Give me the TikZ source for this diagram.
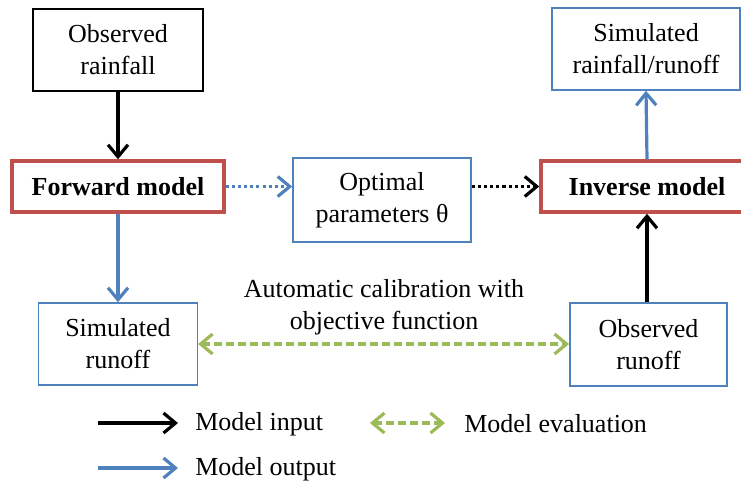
\documentclass[tikz,border=0pt]{standalone}
\usepackage{fontspec}
\setmainfont{Liberation Serif}
\usetikzlibrary{arrows.meta}
\definecolor{myblue}{RGB}{79,129,189}
\definecolor{myred}{RGB}{192,80,77}
\definecolor{mygreen}{RGB}{155,187,89}
\begin{document}
\begin{tikzpicture}[x=0.75pt,y=-0.75pt,
  every node/.style={font=\fontsize{19.5}{24}\selectfont, align=center, inner sep=0pt},
  blackbox/.style={draw=black, line width=1.4pt, minimum width=127.5pt, minimum height=61.5pt},
  bluebox/.style={draw=myblue, line width=1.2pt},
  modelbox/.style={draw=myred, line width=2.6pt, minimum width=159pt, minimum height=38.25pt, font=\fontsize{19.5}{24}\selectfont\bfseries},
  arrowtip/.style={-{Straight Barb[length=9pt,width=15pt]}},
  inarrow/.style={line width=2.4pt, color=black, arrowtip},
  outarrow/.style={line width=2.4pt, color=myblue, arrowtip},
  evalarrow/.style={line width=2.4pt, color=mygreen, {Straight Barb[length=9pt,width=15pt]}-{Straight Barb[length=9pt,width=15pt]}, dash pattern=on 6pt off 3pt},
  legtext/.style={anchor=west}
]
\useasboundingbox (0,0) rectangle (741,482);

\node[blackbox] (obsrain) at (118,50) {Observed\\rainfall};
\node[modelbox] (forward) at (118,186.5) {Forward model};
\node[bluebox, minimum width=133.5pt, minimum height=63pt] (optimal) at (382,200) {Optimal\\parameters θ};
\node[modelbox] (inverse) at (647,186.5) {Inverse model};
\node[bluebox, minimum width=141pt, minimum height=61.5pt] (simrr) at (646,49) {Simulated\\rainfall/runoff};
\node[bluebox, minimum width=119pt, minimum height=61.5pt] (simrunoff) at (118,344) {Simulated\\runoff};
\node[bluebox, minimum width=118pt, minimum height=62pt] (obsrunoff) at (648.5,344.5) {Observed\\runoff};
\node (calib) at (384,307) {Automatic calibration with\\objective function};

\draw[inarrow] (obsrain.south) -- (forward.north);
\draw[outarrow] (forward.south) -- (simrunoff.north);
\draw[outarrow, dash pattern=on 2.3pt off 2.3pt] (forward.east) -- (optimal.west |- forward.east);
\draw[inarrow, dash pattern=on 2.3pt off 2.3pt] (optimal.east |- inverse.west) -- (inverse.west);
\draw[outarrow] (inverse.north) -- (simrr.south);
\draw[inarrow] (obsrunoff.north -| inverse.south) -- (inverse.south);
\draw[evalarrow] (simrunoff.east) -- (obsrunoff.west |- simrunoff.east);

% legend
\coordinate (l1a) at (98,423);
\coordinate (l1b) at (178,423);
\coordinate (l2a) at (98,468);
\coordinate (l2b) at (178,468);
\coordinate (l3a) at (370,423);
\coordinate (l3b) at (445,423);
\draw[inarrow] (l1a) -- (l1b);
\draw[outarrow] (l2a) -- (l2b);
\draw[evalarrow] (l3a) -- (l3b);
\node[legtext] (t1) at (195,424) {Model input};
\node[legtext] (t2) at (195,469) {Model output};
\node[legtext] (t3) at (464,424) {Model evaluation};
\end{tikzpicture}
\end{document}
